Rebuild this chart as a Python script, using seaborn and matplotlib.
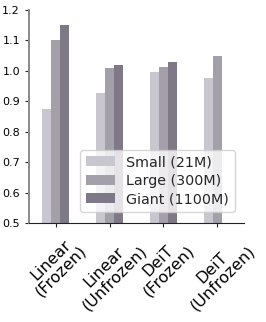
import numpy as np
import pandas as pd
import matplotlib
matplotlib.use('Agg')
import matplotlib.pyplot as plt
import seaborn as sns

methods = ['Linear\n(Frozen)', 'Linear\n(Unfrozen)', 'DeiT\n(Frozen)', 'DeiT\n(Unfrozen)']
sizes = ['Small (21M)', 'Large (300M)', 'Giant (1100M)']
small = [0.875, 0.927, 0.997, 0.975]
large = [1.101, 1.011, 1.014, 1.049]
giant = [1.150, 1.019, 1.029, np.nan]
colors = ['#c8c6cf', '#a3a0aa', '#7f7987']

df = pd.DataFrame({
    'method': methods * 3,
    'size': [s for s in sizes for _ in methods],
    'value': small + large + giant,
})

sns.set_style('ticks')
fig = plt.figure(figsize=(2.66, 3.22), dpi=100)
ax = fig.add_axes([0.109, 0.307, 0.808, 0.662])

sns.barplot(data=df, x='method', y='value', hue='size', hue_order=sizes,
            palette=colors, width=0.5, saturation=1, linewidth=0, ax=ax)

ax.set_ylim(0.5, 1.2)
ax.set_yticks(np.arange(0.5, 1.21, 0.1))
ax.tick_params(axis='y', labelsize=8, length=3, labelcolor='black')
ax.tick_params(axis='x', length=3, labelcolor='black')
ax.set_xticks(range(len(methods)))
ax.set_xticklabels(methods, rotation=45, ha='center', fontsize=11.5, linespacing=1.0)
ax.set_xlabel('')
ax.set_ylabel('')
sns.despine(ax=ax)
ax.spines['left'].set_color('#8a8a8a')
ax.spines['left'].set_linewidth(1.4)
ax.spines['bottom'].set_color('#222222')

ax.legend(loc='lower right', fontsize=10.3, frameon=True, handlelength=2.0,
          borderpad=0.4, labelspacing=0.3, bbox_to_anchor=(0.99, 0.02))

fig.savefig('out.png', dpi=100)
